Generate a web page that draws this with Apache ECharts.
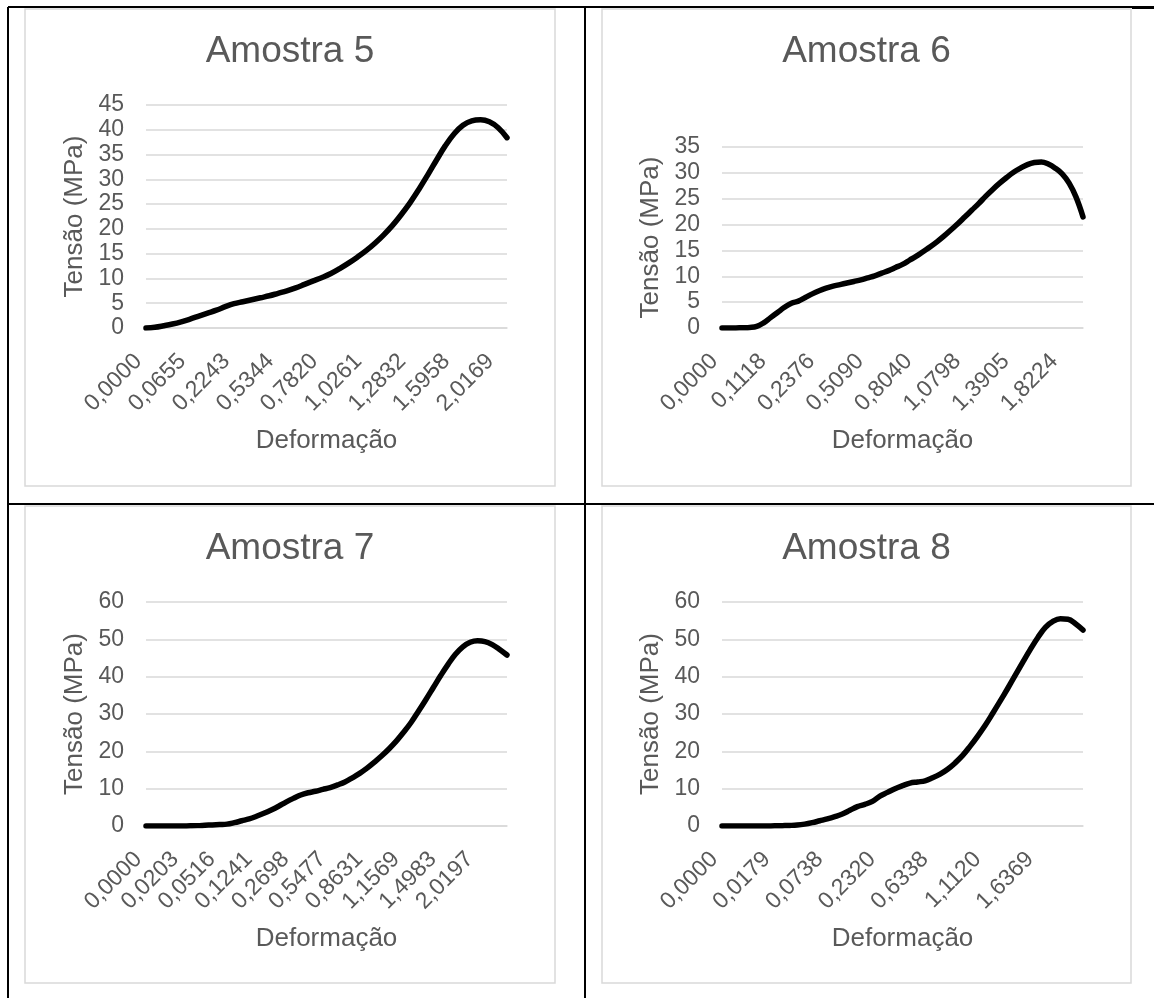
<!DOCTYPE html>
<html>
<head>
<meta charset="utf-8">
<script src="https://cdn.jsdelivr.net/npm/echarts@6/dist/echarts.min.js"></script>
<style>
html,body{margin:0;padding:0;background:#fff;}
#c{width:1154px;height:998px;}
</style>
</head>
<body>
<div id="c"></div>
<script>
// ---------- DATA ----------
const titles = ['Amostra 5', 'Amostra 6', 'Amostra 7', 'Amostra 8'];
const yName = 'Tensão (MPa)';
const xName = 'Deformação';

// visible strain tick labels (one every `step` points)
const labels5 = ['0,0000','0,0655','0,2243','0,5344','0,7820','1,0261','1,2832','1,5958','2,0169'];
const labels6 = ['0,0000','0,1118','0,2376','0,5090','0,8040','1,0798','1,3905','1,8224'];
const labels7 = ['0,0000','0,0203','0,0516','0,1241','0,2698','0,5477','0,8631','1,1569','1,4983','2,0197'];
const labels8 = ['0,0000','0,0179','0,0738','0,2320','0,6338','1,1120','1,6369'];
const step5 = 5, step6 = 7, step7 = 5, step8 = 7;

// stress values (MPa)
const stress5 = [0,0.15,0.45,0.8,1.25,1.8,2.4,3.0,3.6,4.3,4.9,5.3,5.7,6.1,6.5,7.0,7.5,8.1,8.8,9.5,
  10.2,11.0,12.0,13.1,14.3,15.6,17.1,18.8,20.7,22.9,25.3,28.0,30.9,33.9,36.8,39.2,40.9,41.8,42.0,41.6,40.4,38.4];
const stress6 = [0,0,0.02,0.05,0.1,0.3,1.0,2.0,3.0,4.0,4.8,5.2,5.9,6.6,7.2,7.7,8.1,8.4,8.7,9.0,
  9.3,9.7,10.1,10.6,11.1,11.7,12.3,13.1,13.9,14.8,15.7,16.7,17.8,19.0,20.2,21.5,22.8,24.1,25.5,26.8,
  28.0,29.1,30.1,30.9,31.6,32.0,32.1,31.7,30.9,29.8,28.0,25.3,21.5];
const stress7 = [0,0,0,0,0,0.02,0.05,0.1,0.2,0.3,0.4,0.5,0.9,1.4,1.9,2.6,3.4,4.3,5.3,6.4,
  7.4,8.3,8.9,9.3,9.8,10.3,11.0,11.8,12.9,14.1,15.5,17.1,18.8,20.7,22.8,25.2,27.8,30.8,33.9,37.1,
  40.3,43.3,46.0,48.0,49.2,49.6,49.4,48.6,47.3,45.8];
const stress8 = [0,0,0,0,0,0,0.02,0.05,0.1,0.15,0.25,0.5,0.9,1.4,1.9,2.5,3.2,4.2,5.2,5.8,
  6.6,8.0,9.0,10.0,10.8,11.5,11.8,12.1,12.9,13.9,15.2,16.9,18.9,21.4,24.1,27.0,30.2,33.5,36.9,40.4,
  43.9,47.3,50.5,53.2,54.8,55.5,55.4,54.2,52.5];

const yMax = [45, 35, 60, 60];
const yStep = [5, 5, 10, 10];

// ---------- LAYOUT ----------
const FONT = 'Liberation Sans, Arial, sans-serif';
const TXT = '#595959';
const GRIDC = '#d9d9d9';
const panels = [
  {x:25, y:9,   w:530, h:477, grid:{left:146, top:105, width:361, height:223}},
  {x:602, y:9,  w:529, h:477, grid:{left:722, top:147, width:361, height:181}},
  {x:25, y:506, w:530, h:477, grid:{left:146, top:602, width:361, height:224}},
  {x:602, y:506,w:529, h:477, grid:{left:722, top:602, width:361, height:224}}
];

function buildCats(labels, step, n) {
  const out = [];
  for (let i = 0; i < n; i++) out.push(i % step === 0 && labels[i / step] !== undefined ? labels[i / step] : '');
  return out;
}
const sets = [
  {labels: labels5, step: step5, data: stress5},
  {labels: labels6, step: step6, data: stress6},
  {labels: labels7, step: step7, data: stress7},
  {labels: labels8, step: step8, data: stress8}
];

const option = {
  backgroundColor: '#fff',
  animation: false,
  title: [], grid: [], xAxis: [], yAxis: [], series: [],
  graphic: []
};

sets.forEach((s, i) => {
  const p = panels[i];
  option.title.push({
    text: titles[i], left: p.x + p.w / 2, top: p.y + 23, textAlign: 'center', padding: 0,
    textStyle: {fontFamily: FONT, fontSize: 37, fontWeight: 'normal', color: TXT, lineHeight: 40}
  });
  option.grid.push(Object.assign({containLabel: false}, p.grid));
  option.xAxis.push({
    type: 'category', gridIndex: i, boundaryGap: false,
    data: buildCats(s.labels, s.step, s.data.length),
    name: xName, nameLocation: 'middle', nameGap: 100,
    nameTextStyle: {fontFamily: FONT, fontSize: 26, color: TXT},
    axisLine: {show: true, lineStyle: {color: GRIDC, width: 1.5}},
    axisTick: {show: false},
    axisLabel: {interval: s.step - 1, rotate: 45, margin: 22, padding: [0, 11, 0, 0],
      fontFamily: FONT, fontSize: 23, color: TXT}
  });
  option.yAxis.push({
    type: 'value', gridIndex: i, min: 0, max: yMax[i], interval: yStep[i],
    name: yName, nameLocation: 'middle', nameGap: 58,
    nameTextStyle: {fontFamily: FONT, fontSize: 26, color: TXT},
    axisLine: {show: false}, axisTick: {show: false},
    axisLabel: {margin: 22, fontFamily: FONT, fontSize: 23, color: TXT},
    splitLine: {lineStyle: {color: GRIDC, width: 1.5}}
  });
  option.series.push({
    type: 'line', xAxisIndex: i, yAxisIndex: i, data: s.data,
    showSymbol: false, smooth: 0.4,
    lineStyle: {color: '#000', width: 5.5, cap: 'round', join: 'round'}
  });
  option.graphic.push({
    type: 'rect', silent: true, z: -1,
    shape: {x: p.x, y: p.y, width: p.w, height: p.h},
    style: {fill: null, stroke: GRIDC, lineWidth: 1.5}
  });
});

// table borders
const tableLines = [
  [8, 7, 8, 998, 2], [8, 7, 1154, 7, 2], [585, 7, 585, 998, 2], [8, 504, 1154, 504, 1.8], [1132, 7.5, 1154, 7.5, 3]
];
tableLines.forEach(l => option.graphic.push({
  type: 'line', silent: true, shape: {x1: l[0], y1: l[1], x2: l[2], y2: l[3]},
  style: {stroke: '#000', lineWidth: l[4]}
}));

const chart = echarts.init(document.getElementById('c'), null, {renderer: 'canvas'});
chart.setOption(option);
</script>
</body>
</html>
